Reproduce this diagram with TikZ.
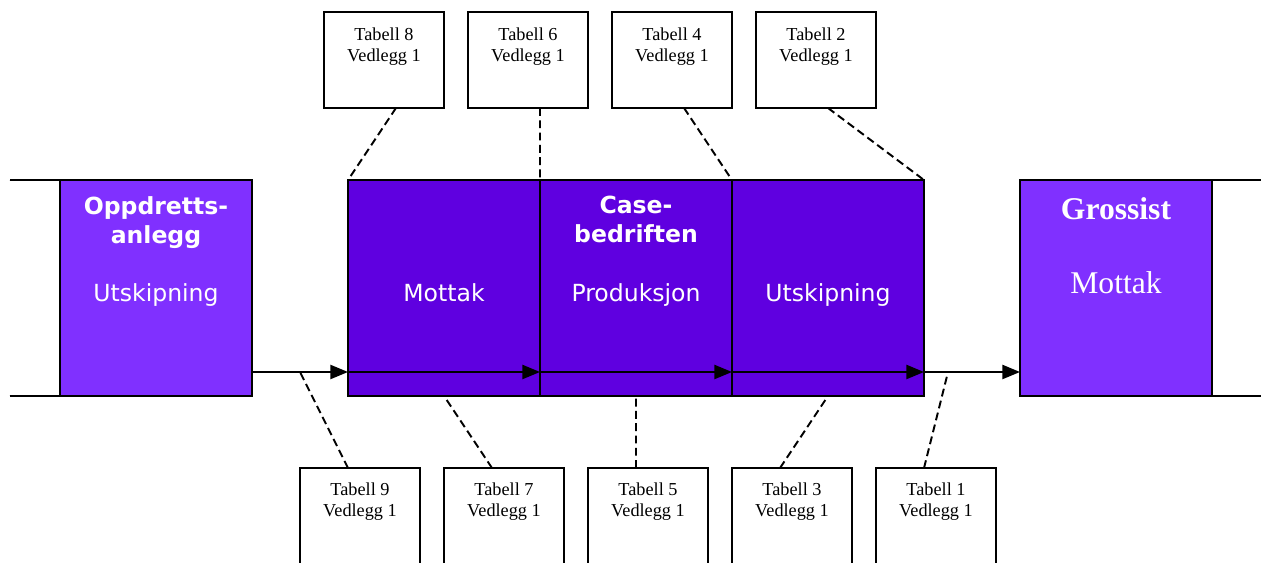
\documentclass[tikz,border=0pt]{standalone}
\usepackage{fontspec}
\setmainfont{Liberation Serif}
\setsansfont{DejaVu Sans}
\usetikzlibrary{arrows.meta}
\definecolor{lyslilla}{RGB}{128,48,255}
\definecolor{morklilla}{RGB}{95,0,224}

\begin{document}
\begin{tikzpicture}[x=0.02cm, y=-0.02cm, line width=1.1pt,
    >={Triangle[length=10pt, width=8pt]},
    ledd/.style={draw, rectangle, minimum width=3.84cm, minimum height=4.32cm, inner sep=0pt, outer sep=0pt},
    tabell/.style={draw, fill=white, rectangle, minimum width=2.4cm, minimum height=1.92cm, inner sep=0pt, outer sep=0pt},
    tabelltekst/.style={anchor=base, align=center, inner sep=0pt, font=\fontsize{10.4}{12.5}\selectfont},
    lystekst/.style={anchor=base, align=center, inner sep=0pt, text=white, font=\sffamily\fontsize{13.4}{17}\selectfont},
    stiplet/.style={dash pattern=on 4.5pt off 2.5pt}]
    \useasboundingbox (0,0) rectangle (1261,563);

    % Ledd i kjeden
    \node[ledd, fill=lyslilla] (oppdrett) at (156,288) {};
    \node[ledd, fill=morklilla] (mottak) at (444,288) {};
    \node[ledd, fill=morklilla] (produksjon) at (636,288) {};
    \node[ledd, fill=morklilla] (utskipning) at (828,288) {};
    \node[ledd, fill=lyslilla] (grossist) at (1116,288) {};

    % Tekst i leddene (base = siste linje)
    \node[lystekst, font=\sffamily\bfseries\fontsize{13.4}{17}\selectfont] (oppdrettnavn) at (156,244) {Oppdretts-\\anlegg};
    \node[lystekst] (oppdrettutskip) at (156,302) {Utskipning};
    \node[lystekst] (mottaknavn) at (444,302) {Mottak};
    \node[lystekst, font=\sffamily\bfseries\fontsize{13.4}{17}\selectfont] (casenavn) at (636,243) {Case-\\bedriften};
    \node[lystekst] (produksjonnavn) at (636,302) {Produksjon};
    \node[lystekst] (utskipnavn) at (828,302) {Utskipning};
    \node[lystekst, font=\bfseries\fontsize{18}{22}\selectfont] (grossistnavn) at (1116,220) {Grossist};
    \node[lystekst, font=\fontsize{18}{22}\selectfont] (grossistmottak) at (1116,294) {Mottak};

    % Linjer ut til sidene
    \coordinate (venstreopp) at (10,180);
    \coordinate (venstrened) at (10,396);
    \coordinate (hoyreopp) at (1261,180);
    \coordinate (hoyrened) at (1261,396);
    \draw (venstreopp) -- (oppdrett.north west);
    \draw (venstrened) -- (oppdrett.south west);
    \draw (grossist.north east) -- (hoyreopp);
    \draw (grossist.south east) -- (hoyrened);

    % Varestrom
    \coordinate (p0) at (252,372);
    \coordinate (p1) at (348,372);
    \coordinate (p2) at (540,372);
    \coordinate (p3) at (732,372);
    \coordinate (p4) at (924,372);
    \coordinate (p5) at (1020,372);
    \draw[->] (p0) -- (p1);
    \draw[->] (p1) -- (p2);
    \draw[->] (p2) -- (p3);
    \draw[->] (p3) -- (p4);
    \draw[->] (p4) -- (p5);

    % Tabeller over
    \node[tabell] (t8) at (384,60) {};
    \node[tabell] (t6) at (528,60) {};
    \node[tabell] (t4) at (672,60) {};
    \node[tabell] (t2) at (816,60) {};
    \node[tabelltekst] (t8tekst) at (384,62) {Tabell 8\\Vedlegg 1};
    \node[tabelltekst] (t6tekst) at (528,62) {Tabell 6\\Vedlegg 1};
    \node[tabelltekst] (t4tekst) at (672,62) {Tabell 4\\Vedlegg 1};
    \node[tabelltekst] (t2tekst) at (816,62) {Tabell 2\\Vedlegg 1};

    % Tabeller under
    \node[tabell, minimum height=2.1cm] (t9) at (360,520.5) {};
    \node[tabell, minimum height=2.1cm] (t7) at (504,520.5) {};
    \node[tabell, minimum height=2.1cm] (t5) at (648,520.5) {};
    \node[tabell, minimum height=2.1cm] (t3) at (792,520.5) {};
    \node[tabell, minimum height=2.1cm] (t1) at (936,520.5) {};
    \node[tabelltekst] (t9tekst) at (360,517) {Tabell 9\\Vedlegg 1};
    \node[tabelltekst] (t7tekst) at (504,517) {Tabell 7\\Vedlegg 1};
    \node[tabelltekst] (t5tekst) at (648,517) {Tabell 5\\Vedlegg 1};
    \node[tabelltekst] (t3tekst) at (792,517) {Tabell 3\\Vedlegg 1};
    \node[tabelltekst] (t1tekst) at (936,517) {Tabell 1\\Vedlegg 1};

    % Henvisninger
    \coordinate (h9) at (300,372);
    \coordinate (h1) at (948,372);
    \draw[stiplet] ([xshift=0.24cm]t8.south) -- (mottak.north west);
    \draw[stiplet] ([xshift=0.24cm]t6.south) -- (mottak.north east);
    \draw[stiplet] ([xshift=0.24cm]t4.south) -- (produksjon.north east);
    \draw[stiplet] ([xshift=0.24cm]t2.south) -- (utskipning.north east);
    \draw[stiplet] ([xshift=-0.24cm]t9.north) -- (h9);
    \draw[stiplet] ([xshift=-0.24cm]t7.north) -- (mottak.south);
    \draw[stiplet] ([xshift=-0.24cm]t5.north) -- (produksjon.south);
    \draw[stiplet] ([xshift=-0.24cm]t3.north) -- (utskipning.south);
    \draw[stiplet] ([xshift=-0.24cm]t1.north) -- (h1);
\end{tikzpicture}
\end{document}
